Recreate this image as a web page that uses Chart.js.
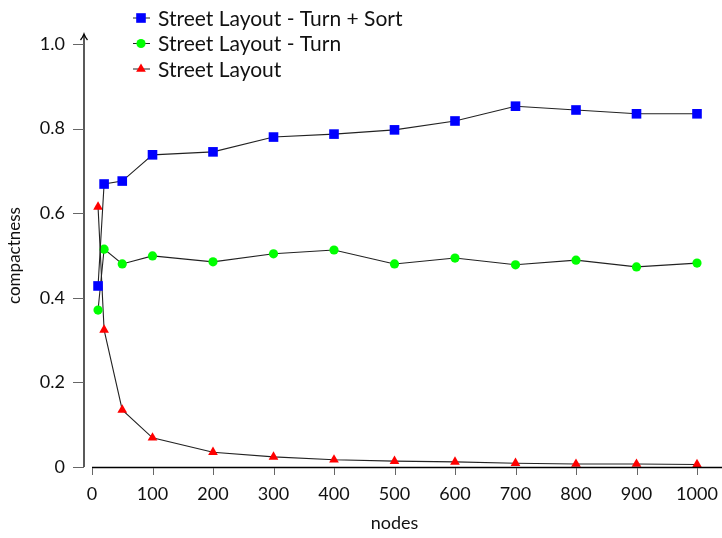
<!DOCTYPE html>
<html>
<head>
<meta charset="utf-8">
<script src="https://cdn.jsdelivr.net/npm/chart.js@4.4.1/dist/chart.umd.min.js"></script>
<style>
  html, body { margin: 0; padding: 0; background: #fff; }
</style>
</head>
<body>
<canvas id="chart" width="722" height="538"></canvas>
<script>
/* ================= DATA ================= */
const nodes = [10, 20, 50, 100, 200, 300, 400, 500, 600, 700, 800, 900, 1000];
const turnSort = [0.428, 0.669, 0.676, 0.738, 0.745, 0.780, 0.787, 0.797, 0.818, 0.853, 0.844, 0.835, 0.835];
const turnOnly = [0.371, 0.515, 0.480, 0.499, 0.485, 0.504, 0.513, 0.480, 0.494, 0.478, 0.489, 0.473, 0.482];
const street   = [0.615, 0.324, 0.135, 0.069, 0.035, 0.024, 0.017, 0.014, 0.012, 0.009, 0.007, 0.007, 0.006];
const xTicks = [0, 100, 200, 300, 400, 500, 600, 700, 800, 900, 1000];
const yTicks = [0, 0.2, 0.4, 0.6, 0.8, 1.0];
const seriesNames = ["Street Layout - Turn + Sort", "Street Layout - Turn", "Street Layout"];

const FONT = "Lato, 'DejaVu Sans', sans-serif";

function toPoints(ys) {
  return nodes.map((x, i) => ({ x: x, y: ys[i] }));
}

/* ================= AXES (pgfplots-like, arrows) ================= */
const axesPlugin = {
  id: "axesPlugin",
  afterDraw(chart) {
    const ctx = chart.ctx;
    const a = chart.chartArea;
    const xs = chart.scales.x, ys = chart.scales.y;
    const axX = a.left - 8;
    ctx.save();
    ctx.strokeStyle = "#000";
    ctx.lineWidth = 1.3;

    // y axis line with arrow
    ctx.beginPath();
    ctx.moveTo(axX, a.bottom);
    ctx.lineTo(axX, a.top - 9);
    ctx.stroke();
    ctx.beginPath();
    ctx.moveTo(axX - 3.5, a.top - 4);
    ctx.quadraticCurveTo(axX - 1, a.top - 7, axX, a.top - 10);
    ctx.quadraticCurveTo(axX + 1, a.top - 7, axX + 3.5, a.top - 4);
    ctx.stroke();

    // x axis line (arrow runs off the canvas)
    ctx.beginPath();
    ctx.moveTo(a.left, a.bottom + 0.5);
    ctx.lineTo(chart.width + 2, a.bottom + 0.5);
    ctx.stroke();

    // ticks
    ctx.strokeStyle = "#666";
    ctx.lineWidth = 1;
    yTicks.forEach(v => {
      const py = Math.round(ys.getPixelForValue(v)) + 0.5;
      ctx.beginPath();
      ctx.moveTo(axX - 11, py);
      ctx.lineTo(axX, py);
      ctx.stroke();
    });
    xTicks.forEach(v => {
      const px = Math.round(xs.getPixelForValue(v)) + 0.5;
      ctx.beginPath();
      ctx.moveTo(px, a.bottom + 1);
      ctx.lineTo(px, a.bottom + 8);
      ctx.stroke();
    });
    ctx.restore();
  }
};

/* ================= LEGEND ================= */
const legendPlugin = {
  id: "legendPlugin",
  afterDraw(chart) {
    const ctx = chart.ctx;
    ctx.save();
    ctx.font = "21px " + FONT;
    ctx.textBaseline = "middle";
    chart.data.datasets.forEach((ds, i) => {
      const y = 18 + i * 25.5;
      ctx.strokeStyle = "#222";
      ctx.lineWidth = 1;
      ctx.beginPath();
      ctx.moveTo(133, y);
      ctx.lineTo(150, y);
      ctx.stroke();
      ctx.fillStyle = ds.pointBackgroundColor;
      ctx.strokeStyle = ds.pointBackgroundColor;
      Chart.helpers.drawPoint(ctx, {
        pointStyle: ds.pointStyle,
        radius: ds.pointRadius,
        borderWidth: 0
      }, 141, y);
      ctx.fillStyle = "#111";
      ctx.fillText(ds.label, 158, y + 1);
    });
    ctx.restore();
  }
};

/* ================= CHART ================= */
function series(label, ys, color, style, radius) {
  return {
    label: label,
    data: toPoints(ys),
    borderColor: "#222",
    borderWidth: 1.1,
    pointStyle: style,
    pointRadius: radius,
    pointHoverRadius: radius,
    pointBackgroundColor: color,
    pointBorderColor: color,
    pointBorderWidth: 0,
    tension: 0,
    fill: false
  };
}

new Chart(document.getElementById("chart"), {
  type: "line",
  data: {
    datasets: [
      series(seriesNames[0], turnSort, "#0000ff", "rect", 6.8),
      series(seriesNames[1], turnOnly, "#00ff00", "circle", 4.6),
      series(seriesNames[2], street, "#ff0000", "triangle", 5.6)
    ]
  },
  options: {
    responsive: false,
    animation: false,
    clip: false,
    layout: { padding: { top: 44, right: 25, left: 0, bottom: 0 } },
    plugins: {
      legend: { display: false },
      tooltip: { enabled: false }
    },
    scales: {
      x: {
        type: "linear",
        min: 0,
        max: 1000,
        afterBuildTicks: s => { s.ticks = xTicks.map(v => ({ value: v })); },
        afterFit: s => { s.height = 71; s.paddingRight = 0; s.paddingLeft = 0; },
        grid: { display: false, drawTicks: false },
        border: { display: false },
        ticks: {
          color: "#111",
          font: { family: FONT, size: 18 },
          padding: 16,
          maxRotation: 0,
          callback: v => String(v)
        },
        title: {
          display: true,
          text: "nodes",
          color: "#111",
          font: { family: FONT, size: 18 },
          padding: { top: 10 }
        }
      },
      y: {
        type: "linear",
        min: 0,
        max: 1,
        afterBuildTicks: s => { s.ticks = yTicks.map(v => ({ value: v })); },
        afterFit: s => { s.width = 92; },
        grid: { display: false, drawTicks: false },
        border: { display: false },
        ticks: {
          color: "#111",
          font: { family: FONT, size: 18 },
          padding: 27,
          callback: v => v === 0 ? "0" : v.toFixed(1)
        },
        title: {
          display: true,
          text: "compactness",
          color: "#111",
          font: { family: FONT, size: 17 },
          padding: { top: 4, bottom: 0 }
        }
      }
    }
  },
  plugins: [axesPlugin, legendPlugin]
});
</script>
</body>
</html>
